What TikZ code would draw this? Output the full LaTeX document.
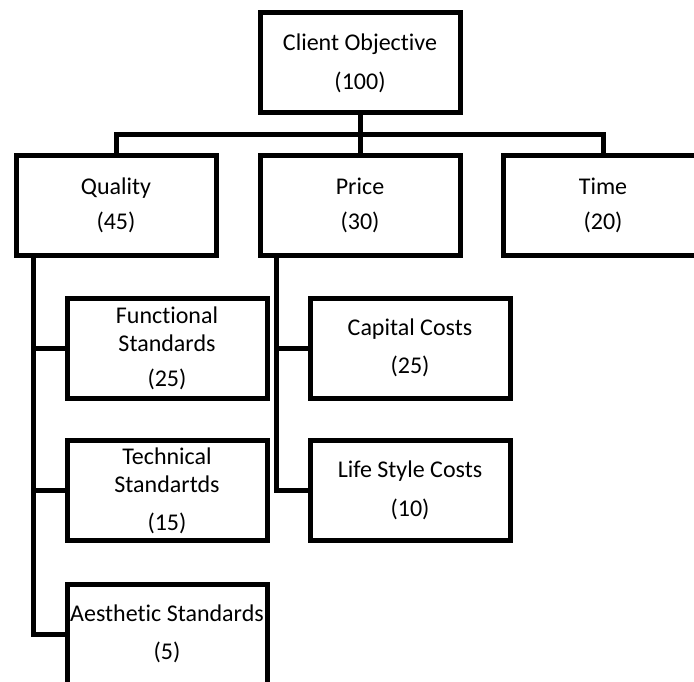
\documentclass[tikz,border=0pt]{standalone}
\usepackage{fontspec}
\setmainfont{Carlito}[Ligatures={NoCommon}]
\usetikzlibrary{calc}
\begin{document}
\begin{tikzpicture}[x=1pt,y=-1pt,
  box/.style={draw, line width=5pt, minimum width=200pt, minimum height=100pt,
    inner sep=0pt, align=center, font=\fontsize{24}{28}\selectfont},
  link/.style={line width=5pt}]
\useasboundingbox (0,0) rectangle (694,682);
\clip (0,0) rectangle (694,682);

% top level
\node[box] (co) at (360,63) {Client Objective\\[11pt](100)};

% criteria
\node[box] (ql) at (116,205.5) {Quality\\[7pt](45)};
\node[box] (pr) at (360,205.5) {Price\\[7pt](30)};
\node[box] (tm) at (603,205.5) {Time\\[7pt](20)};

% quality sub-criteria
\node[box] (fs) at (167,348) {Functional\\Standards\\[7pt](25)};
\node[box] (ts) at (167,490.5) {Technical\\Standartds\\[10pt](15)};
\node[box] (as) at (167,634) {Aesthetic Standards\\[10pt](5)};

% price sub-criteria
\node[box] (cc) at (410,348) {Capital Costs\\[10pt](25)};
\node[box] (lc) at (410,490.5) {Life Style Costs\\[11pt](10)};

% tree connectors
\coordinate (bus) at ($(co.south)!0.5!(pr.north)$);
\draw[link] (co.south) -- (pr.north);
\draw[link] (ql.north) |- (bus) -| (tm.north);

\coordinate (qv) at ([xshift=20pt]ql.south west);
\draw[link] (qv) |- (as.west);
\draw[link] (qv |- fs.west) -- (fs.west);
\draw[link] (qv |- ts.west) -- (ts.west);

\coordinate (pv) at ([xshift=19pt]pr.south west);
\draw[link] (pv) |- (lc.west);
\draw[link] (pv |- cc.west) -- (cc.west);
\end{tikzpicture}
\end{document}
